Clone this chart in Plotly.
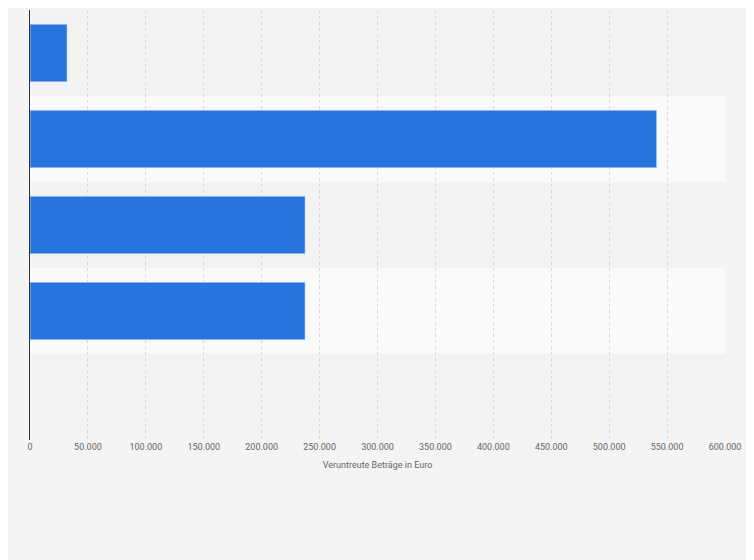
import plotly.graph_objects as go

categories = ["Kategorie 1", "Kategorie 2", "Kategorie 3", "Kategorie 4", "Kategorie 5"]
values = [32000, 541000, 237500, 237500, None]
tick_vals = [0, 50000, 100000, 150000, 200000, 250000, 300000, 350000, 400000, 450000, 500000, 550000, 600000]
tick_text = ["0", "50.000", "100.000", "150.000", "200.000", "250.000", "300.000", "350.000", "400.000", "450.000", "500.000", "550.000", "600.000"]

fig = go.Figure(go.Bar(y=categories, x=values, orientation="h", marker_color="#2876dd", width=0.67))

shapes = []
for i, c in enumerate(categories):
    shapes.append(dict(type="rect", xref="paper", yref="y", x0=0, x1=1, y0=i - 0.5, y1=i + 0.5,
                       fillcolor="#f3f3f3" if i % 2 == 0 else "#fafafa", line_width=0, layer="below"))

fig.update_layout(
    width=754, height=560, paper_bgcolor="#f4f4f4", plot_bgcolor="#f4f4f4",
    margin=dict(l=22, r=37, t=2, b=128), shapes=shapes, showlegend=False,
    font=dict(family="Roboto, Arial", size=9, color="#666666"),
    xaxis=dict(range=[0, 600000], tickvals=tick_vals, ticktext=tick_text, showgrid=True,
               gridcolor="#d8d8d8", griddash="dot", zeroline=False,
               title=dict(text="Veruntreute Beträge in Euro", font=dict(size=9, color="#666666"), standoff=10),
               ticks="", layer="above traces"),
    yaxis=dict(autorange="reversed", showticklabels=False, showgrid=False, zeroline=False,
               showline=True, linecolor="#333333", linewidth=1, ticks=""),
    bargap=0.33,
)
fig.write_html("out.html")
